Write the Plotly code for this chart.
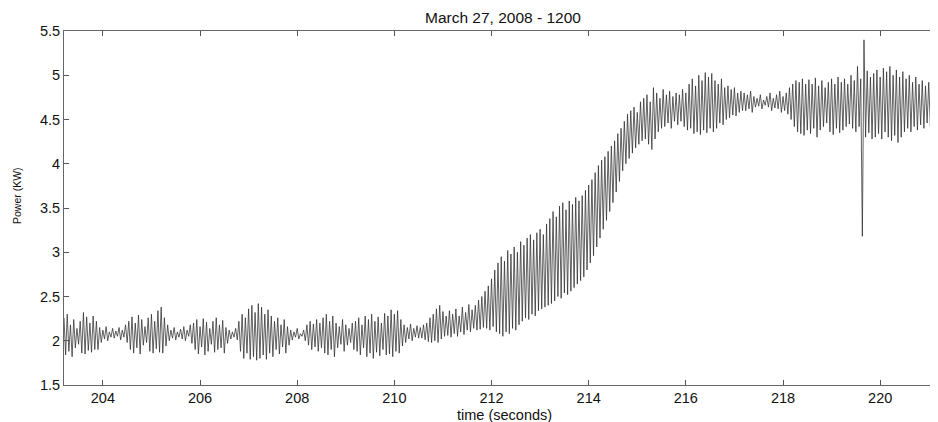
import numpy as np
import plotly.graph_objects as go

# Sampling of the trace (seconds): 30 samples per second (crest / trough alternating)
t_start = 203.2
t_step = 1.0 / 30.0

# Power (kW), one row per 2/3 s
power_kw = [
    2.26,1.84, 2.30,1.88, 2.18,1.82, 2.24,1.92, 2.14,1.96, 2.22,1.86, 2.32,1.85, 2.27,1.89, 2.20,1.87, 2.28,1.90,
    2.22,1.90, 2.15,1.98, 2.12,2.02, 2.16,2.00, 2.10,2.04, 2.14,2.03, 2.11,2.05, 2.15,2.01, 2.12,2.04, 2.18,1.98,
    2.22,1.90, 2.27,1.86, 2.20,1.92, 2.29,1.85, 2.24,1.95, 2.16,1.98, 2.26,1.88, 2.30,1.86, 2.22,1.91, 2.34,1.87,
    2.38,1.86, 2.26,1.94, 2.18,2.00, 2.12,2.03, 2.15,2.01, 2.10,2.04, 2.13,2.02, 2.16,2.00, 2.12,2.05, 2.18,1.97,
    2.20,1.90, 2.24,1.85, 2.16,1.93, 2.25,1.84, 2.21,1.88, 2.14,1.96, 2.22,1.87, 2.26,1.90, 2.18,1.92, 2.23,1.86,
    2.15,1.97, 2.12,2.02, 2.10,2.04, 2.14,2.01, 2.22,1.88, 2.30,1.80, 2.26,1.86, 2.36,1.79, 2.40,1.82, 2.32,1.78,
    2.42,1.80, 2.38,1.84, 2.30,1.79, 2.35,1.86, 2.28,1.82, 2.22,1.90, 2.26,1.85, 2.18,1.93, 2.24,1.86, 2.16,1.95,
    2.12,2.01, 2.10,2.04, 2.14,2.02, 2.08,2.05, 2.12,2.00, 2.18,1.95, 2.22,1.90, 2.19,1.93, 2.24,1.88, 2.20,1.92,
    2.26,1.86, 2.30,1.84, 2.22,1.90, 2.28,1.82, 2.20,1.92, 2.16,1.96, 2.24,1.88, 2.18,1.95, 2.14,1.98, 2.20,1.90,
    2.22,1.88, 2.26,1.84, 2.18,1.92, 2.28,1.82, 2.24,1.86, 2.30,1.80, 2.22,1.87, 2.27,1.83, 2.20,1.90, 2.31,1.84,
    2.28,1.85, 2.35,1.82, 2.30,1.88, 2.34,1.86, 2.24,1.94, 2.18,1.98, 2.15,2.02, 2.19,2.00, 2.14,2.04, 2.17,2.03,
    2.15,2.03, 2.18,2.01, 2.20,1.99, 2.26,1.98, 2.30,2.00, 2.36,1.98, 2.40,2.02, 2.33,2.05, 2.28,2.06, 2.34,2.04,
    2.30,2.08, 2.36,2.05, 2.28,2.10, 2.38,2.07, 2.32,2.12, 2.41,2.10, 2.35,2.14, 2.40,2.12, 2.46,2.13, 2.50,2.15,
    2.56,2.14, 2.62,2.12, 2.70,2.16, 2.80,2.10, 2.88,2.08, 2.95,2.05, 2.90,2.10, 3.02,2.08, 2.98,2.14, 3.06,2.12,
    3.00,2.18, 3.12,2.22, 3.08,2.26, 3.16,2.24, 3.20,2.30, 3.14,2.28, 3.22,2.34, 3.26,2.36, 3.20,2.38, 3.32,2.40,
    3.38,2.42, 3.46,2.45, 3.40,2.50, 3.52,2.48, 3.56,2.54, 3.48,2.52, 3.58,2.56, 3.54,2.60, 3.62,2.64, 3.58,2.68,
    3.64,2.72, 3.70,2.80, 3.76,2.88, 3.82,2.96, 3.90,3.06, 3.98,3.16, 4.04,3.26, 4.08,3.36, 4.14,3.46, 4.20,3.56,
    4.26,3.68, 4.34,3.80, 4.40,3.92, 4.48,4.00, 4.56,4.06, 4.60,4.12, 4.64,4.18, 4.58,4.22, 4.70,4.26, 4.74,4.28,
    4.78,4.22, 4.70,4.16, 4.86,4.28, 4.80,4.36, 4.74,4.40, 4.84,4.42, 4.78,4.46, 4.82,4.40, 4.76,4.48, 4.80,4.44,
    4.78,4.48, 4.84,4.42, 4.80,4.38, 4.90,4.40, 4.96,4.34, 4.88,4.36, 5.00,4.33, 4.94,4.38, 5.03,4.35, 4.98,4.40,
    5.02,4.36, 4.94,4.40, 4.90,4.46, 4.96,4.44, 4.86,4.50, 4.88,4.52, 4.84,4.55, 4.86,4.54, 4.80,4.58, 4.82,4.60,
    4.80,4.60, 4.78,4.62, 4.82,4.58, 4.76,4.64, 4.74,4.65, 4.78,4.62, 4.72,4.66, 4.76,4.64, 4.80,4.60, 4.74,4.63,
    4.78,4.62, 4.82,4.58, 4.76,4.60, 4.80,4.56, 4.86,4.50, 4.90,4.42, 4.94,4.36, 4.92,4.34, 4.96,4.32, 4.90,4.38,
    4.95,4.34, 4.90,4.40, 4.97,4.30, 4.88,4.38, 4.94,4.42, 4.86,4.46, 4.92,4.36, 4.96,4.33, 4.90,4.40, 4.98,4.35,
    4.92,4.38, 4.96,4.42, 4.90,4.45, 5.00,4.40, 4.94,4.36, 5.10,4.42, 4.96,3.18, 5.40,4.30, 5.05,4.35, 4.98,4.28,
    5.02,4.30, 5.06,4.34, 4.98,4.28, 5.08,4.36, 5.04,4.30, 5.10,4.26, 5.00,4.32, 5.06,4.24, 4.98,4.30, 5.04,4.36,
    4.96,4.40, 5.00,4.36, 4.92,4.42, 4.98,4.38, 4.90,4.44, 4.94,4.40, 4.88,4.46, 4.92,4.42, 4.86,4.48, 4.90,4.38,
]

time_s = t_start + t_step * np.arange(len(power_kw))

x_ticks = [204, 206, 208, 210, 212, 214, 216, 218, 220]
y_ticks = [1.5, 2, 2.5, 3, 3.5, 4, 4.5, 5, 5.5]
y_tick_labels = ["1.5", "2", "2.5", "3", "3.5", "4", "4.5", "5", "5.5"]

title_text = "March 27, 2008 - 1200"
x_title = "time (seconds)"
y_title = "Power (KW)"

FONT = "Liberation Sans, Arial, Helvetica, sans-serif"
NARROW = "Liberation Sans Narrow, Liberation Sans, Arial, sans-serif"

# The page body adds an 8 px offset, so the figure is sized / placed to compensate.
OFF = 8
W, H = 938 - OFF, 422 - OFF
L, R, T, B = 64 - OFF, 1, 31 - OFF, H - (385 - OFF)
PW, PH = W - L - R, H - T - B


def px_x(page_x):
    return (page_x - OFF - L) / PW


def px_y(page_y):
    return (H - B - (page_y - OFF)) / PH


fig = go.Figure()
fig.add_trace(go.Scatter(
    x=time_s, y=power_kw, mode="lines",
    line=dict(color="#2e2e2e", width=0.75),
    hoverinfo="x+y", showlegend=False,
))

axis_common = dict(
    showline=True, linecolor="#666", linewidth=1, mirror="ticks",
    ticks="inside", ticklen=5, tickcolor="#555", tickwidth=1,
    showgrid=False, zeroline=False, automargin=False,
    tickfont=dict(family=FONT, size=14.5, color="#111"),
)

fig.update_layout(
    width=W, height=H,
    margin=dict(l=L, r=R, t=T, b=B),
    paper_bgcolor="white", plot_bgcolor="white",
    xaxis=dict(range=[203.2, 221.17], tickvals=x_ticks, ticklabelstandoff=0,
               **axis_common),
    yaxis=dict(range=[1.5, 5.5], tickvals=y_ticks, ticktext=y_tick_labels,
               **axis_common),
    annotations=[
        dict(text=title_text, xref="paper", yref="paper",
             x=px_x(503), y=px_y(17),
             xanchor="center", yanchor="middle", showarrow=False,
             font=dict(family=FONT, size=15.5, color="#111")),
        dict(text=x_title, xref="paper", yref="paper",
             x=px_x(504), y=px_y(414.5),
             xanchor="center", yanchor="middle", showarrow=False,
             font=dict(family=FONT, size=14.5, color="#111")),
        dict(text=y_title, xref="paper", yref="paper", textangle=-90,
             x=px_x(17), y=px_y(196),
             xanchor="center", yanchor="middle", showarrow=False,
             font=dict(family=NARROW, size=10.5, color="#111")),
    ],
)

fig.write_html("out.html")
